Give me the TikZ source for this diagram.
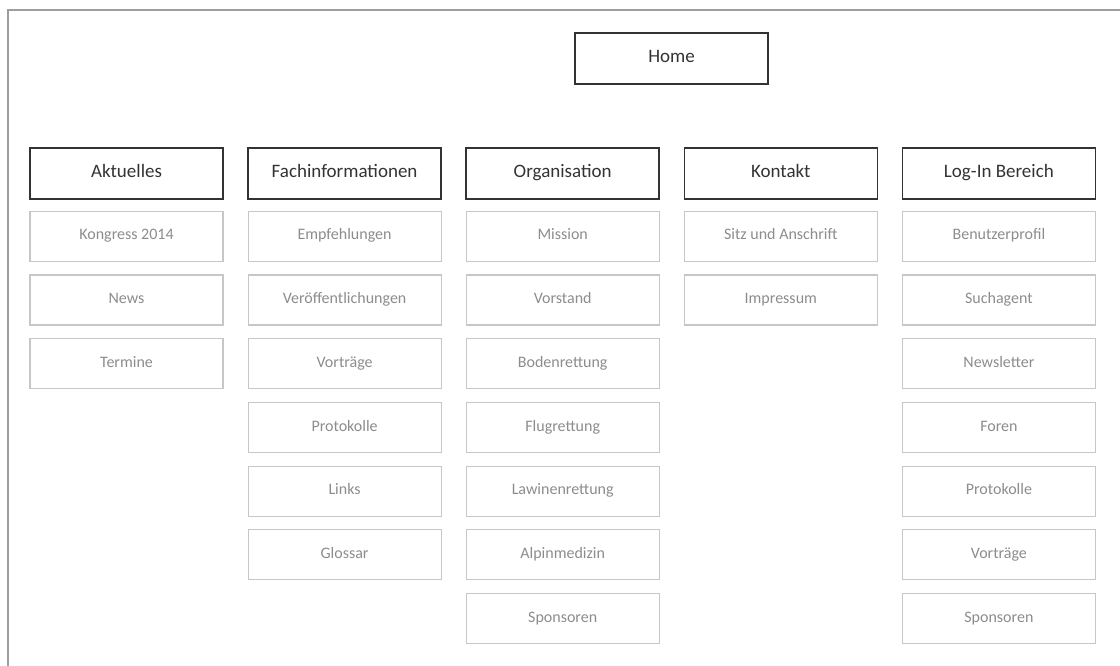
\documentclass[tikz,border=0pt]{standalone}
\usepackage{fontspec}
\setmainfont{Carlito}
\usetikzlibrary{positioning}
\tikzset{
node distance=12.5pt and 23.6pt,
kopf/.style={draw=black!80,line width=1.5pt,minimum width=193pt,minimum height=51pt,inner sep=0pt,text height=0.8em,text depth=0.08em,text=black!80,font=\fontsize{19}{22}\selectfont},
seite/.style={draw=black!22,line width=1.2pt,minimum width=193pt,minimum height=50pt,inner sep=0pt,text height=0.8em,text depth=0.08em,text=black!45,font=\fontsize{16}{18}\selectfont},
rahmen/.style={draw=black!38,line width=2pt}}

\begin{document}
\begin{tikzpicture}[x=1pt,y=1pt]

\useasboundingbox (0,0) rectangle (1120,666);
\draw[rahmen] (1120,656) -| (8,0);

\node (home) [kopf] at (671.5,607.5) {Home};

\node (a) [kopf] at (126.5,492.5) {Aktuelles};
\node (f) [kopf,right=of a] {Fachinformationen};
\node (o) [kopf,right=of f] {Organisation};
\node (k) [kopf,right=of o] {Kontakt};
\node (l) [kopf,right=of k] {Log-In Bereich};

\node (a1) [seite,below=11pt of a] {Kongress 2014};
\node (a2) [seite,below=of a1] {News};
\node (a3) [seite,below=of a2] {Termine};

\node (f1) [seite,below=11pt of f] {Empfehlungen};
\node (f2) [seite,below=of f1] {Veröffentlichungen};
\node (f3) [seite,below=of f2] {Vorträge};
\node (f4) [seite,below=of f3] {Protokolle};
\node (f5) [seite,below=of f4] {Links};
\node (f6) [seite,below=of f5] {Glossar};

\node (o1) [seite,below=11pt of o] {Mission};
\node (o2) [seite,below=of o1] {Vorstand};
\node (o3) [seite,below=of o2] {Bodenrettung};
\node (o4) [seite,below=of o3] {Flugrettung};
\node (o5) [seite,below=of o4] {Lawinenrettung};
\node (o6) [seite,below=of o5] {Alpinmedizin};
\node (o7) [seite,below=of o6] {Sponsoren};

\node (k1) [seite,below=11pt of k] {Sitz und Anschrift};
\node (k2) [seite,below=of k1] {Impressum};

\node (l1) [seite,below=11pt of l] {Benutzerprofil};
\node (l2) [seite,below=of l1] {Suchagent};
\node (l3) [seite,below=of l2] {Newsletter};
\node (l4) [seite,below=of l3] {Foren};
\node (l5) [seite,below=of l4] {Protokolle};
\node (l6) [seite,below=of l5] {Vorträge};
\node (l7) [seite,below=of l6] {Sponsoren};

\end{tikzpicture}
\end{document}
